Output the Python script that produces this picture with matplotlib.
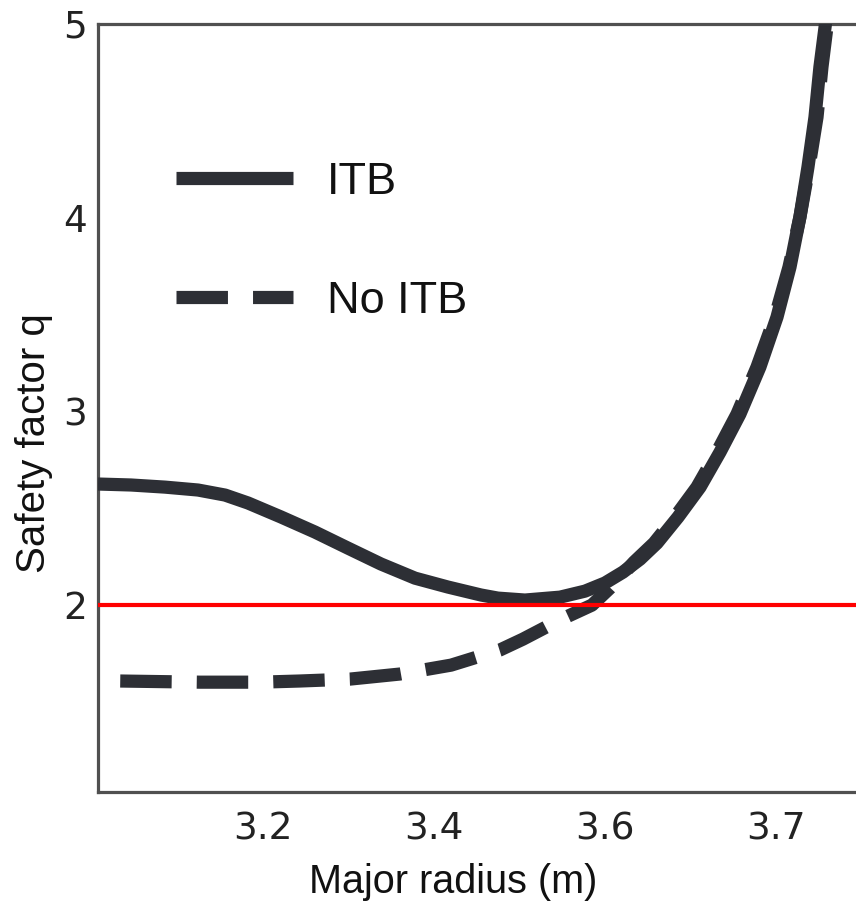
import numpy as np
import matplotlib
matplotlib.use("Agg")
import matplotlib.pyplot as plt

# Major radius (m) and safety factor q for the two discharges
r_itb = [3.007, 3.0456, 3.0854, 3.124, 3.1556, 3.1825, 3.221, 3.2608, 3.2994,
         3.338, 3.3778, 3.4164, 3.455, 3.4748, 3.5064, 3.5474, 3.5766, 3.600,
         3.6105, 3.6205, 3.6304, 3.6427, 3.6556, 3.6673, 3.6789, 3.6906,
         3.7006, 3.7082, 3.7140, 3.7187, 3.7228, 3.7257, 3.7287, 3.7304]
q_itb = [2.625, 2.620, 2.609, 2.594, 2.568, 2.527, 2.455, 2.377, 2.294,
         2.212, 2.139, 2.093, 2.052, 2.036, 2.026, 2.041, 2.072, 2.114,
         2.170, 2.237, 2.320, 2.454, 2.609, 2.790, 2.986, 3.229,
         3.487, 3.745, 4.003, 4.261, 4.519, 4.778, 4.984, 5.098]

r_noitb = [3.033, 3.126, 3.1965, 3.243, 3.302, 3.360, 3.420, 3.477, 3.504,
           3.547, 3.5848, 3.6029, 3.617, 3.6287, 3.6409, 3.6538, 3.6655,
           3.6772, 3.6889, 3.6994, 3.7076, 3.7140, 3.7193, 3.724, 3.7269,
           3.7298, 3.7316]
q_noitb = [1.608, 1.602, 1.602, 1.608, 1.618, 1.644, 1.690, 1.768, 1.824,
           1.923, 2.000, 2.088, 2.222, 2.320, 2.454, 2.609, 2.790,
           2.986, 3.229, 3.487, 3.745, 4.003, 4.261, 4.519, 4.778,
           4.984, 5.098]

q_threshold = 2.0

x_ticks = [3.2, 3.4, 3.6, 3.7]
x_tick_labels = ["3.2", "3.4", "3.6", "3.7"]
y_ticks = [2, 3, 4, 5]
y_tick_labels = ["2", "3", "4", "5"]

series_labels = ["ITB", "No ITB"]

# Radial axis: tick values evenly spaced (piecewise-linear scale)
R_KNOTS = [3.0, 3.2, 3.4, 3.6, 3.7, 3.8]
P_KNOTS = [-1.0, 0.0, 1.0, 2.0, 3.0, 4.0]


def fwd(r):
    return np.interp(r, R_KNOTS, P_KNOTS)


def inv(p):
    return np.interp(p, P_KNOTS, R_KNOTS)


W, H = 856, 905
fig = plt.figure(figsize=(W / 100, H / 100), dpi=100)
ax = fig.add_axes([98 / W, 1 - 792 / H, (W - 98) / W, (792 - 24) / H])
ax.set_xscale("function", functions=(fwd, inv))

line_color = "#2d2f35"
lw = 9.5
ax.plot(r_itb, q_itb, color=line_color, lw=lw, solid_capstyle="butt",
        solid_joinstyle="round", label=series_labels[0], zorder=3)
ax.plot(r_noitb, q_noitb, color=line_color, lw=lw, dashes=(3.9, 1.9),
        dash_joinstyle="round", label=series_labels[1], zorder=3)
ax.axhline(q_threshold, color="#ff0000", lw=3.0, zorder=4)

ax.set_xlim(3.007, 3.7468)
ax.set_ylim(1.035, 5.0)

ax.set_xticks(x_ticks)
ax.set_xticklabels(x_tick_labels)
ax.set_yticks(y_ticks)
ax.set_yticklabels(y_tick_labels)
ax.tick_params(axis="both", length=0, labelsize=27, colors="#222222")
ax.tick_params(axis="x", pad=14)
ax.tick_params(axis="y", pad=8)

for side in ("left", "bottom", "top"):
    ax.spines[side].set_color("#505050")
    ax.spines[side].set_linewidth(2.3)
ax.spines["right"].set_visible(False)

label_family = ["Liberation Sans", "DejaVu Sans"]
ax.set_xlabel("Major radius (m)", family=label_family, size=28.5, color="#111111")
ax.set_ylabel("Safety factor q", family=label_family, size=29, color="#111111")
ax.xaxis.set_label_coords(0.468, -0.092)
ax.yaxis.set_label_coords(-0.060, 0.454)

leg = ax.legend(loc="upper left",
                bbox_to_anchor=((176 - 98) / (W - 98), 1 - (162 - 24) / (792 - 24)),
                frameon=False, handlelength=2.6, handletextpad=0.75,
                labelspacing=1.73, borderpad=0, borderaxespad=0,
                prop=dict(family=label_family, size=32.5))
for t in leg.get_texts():
    t.set_color("#111111")

fig.savefig("out.png", dpi=100, facecolor="white")
